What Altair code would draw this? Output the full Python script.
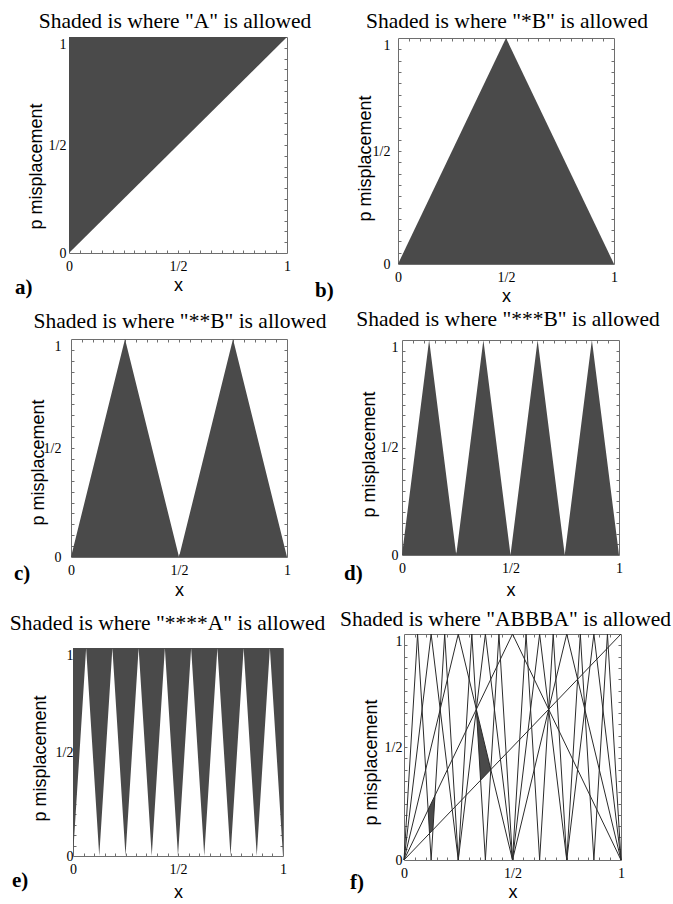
import altair as alt
import pandas as pd

FILL = "#4a4a4a"
FRAME = "#6e6e6e"
LINE = "#2b2b2b"
SERIF = "Liberation Serif"
SANS = "Liberation Sans"

# ---------------- data ----------------
titles = [
    'Shaded is where "A" is allowed',
    'Shaded is where "*B" is allowed',
    'Shaded is where "**B" is allowed',
    'Shaded is where "***B" is allowed',
    'Shaded is where "****A" is allowed',
    'Shaded is where "ABBBA" is allowed',
]
letters = ["a)", "b)", "c)", "d)", "e)", "f)"]

tick_values = [0, 0.5, 1]
tick_labels = ["0", "1/2", "1"]
minor_ticks = [0.05, 0.1, 0.15, 0.2, 0.25, 0.3, 0.35, 0.4, 0.45, 0.5,
               0.55, 0.6, 0.65, 0.7, 0.75, 0.8, 0.85, 0.9, 0.95]

# diagonal (panel a boundary)
diag_x = [0.0, 1.0]
diag_y = [0.0, 1.0]
# single tent (*B)
t1_x = [0.0, 0.5, 1.0]
t1_y = [0.0, 1.0, 0.0]
# two tents (**B)
t2_x = [0.0, 0.25, 0.5, 0.75, 1.0]
t2_y = [0.0, 1.0, 0.0, 1.0, 0.0]
# four tents (***B)
t4_x = [0.0, 0.125, 0.25, 0.375, 0.5, 0.625, 0.75, 0.875, 1.0]
t4_y = [0.0, 1.0, 0.0, 1.0, 0.0, 1.0, 0.0, 1.0, 0.0]
# eight tents (****A)
t8_x = [0.0, 0.0625, 0.125, 0.1875, 0.25, 0.3125, 0.375, 0.4375, 0.5,
        0.5625, 0.625, 0.6875, 0.75, 0.8125, 0.875, 0.9375, 1.0]
t8_y = [0.0, 1.0, 0.0, 1.0, 0.0, 1.0, 0.0, 1.0, 0.0,
        1.0, 0.0, 1.0, 0.0, 1.0, 0.0, 1.0, 0.0]

# shaded pieces of panel f
r1_x = [0.1111, 0.1176, 0.1333, 0.1429]
r1_lo = [0.2222, 0.1176, 0.1333, 0.2857]
r1_hi = [0.2222, 0.2353, 0.2667, 0.2857]
r2_x = [0.3333, 0.3529, 0.4000]
r2_lo = [0.6667, 0.3529, 0.4000]
r2_hi = [0.6667, 0.5882, 0.4000]

# ---------------- panel geometry ----------------
geo = [
    dict(xoff=0, w=218, yoff=0, h=216, tx=106, ty=-9, lx=-54, ly=257, ytc=129, xtb=37, lp=3),
    dict(xoff=0, w=216, yoff=1, h=226, tx=109, ty=-9, lx=-83, ly=260, ytc=121, xtb=37, lp=8),
    dict(xoff=2, w=216, yoff=0, h=218, tx=111, ty=-11, lx=-55, ly=241, ytc=123, xtb=38, lp=10),
    dict(xoff=4, w=217, yoff=1, h=215, tx=110, ty=-13, lx=-54, ly=241, ytc=115, xtb=40, lp=4),
    dict(xoff=4, w=210, yoff=16, h=208, tx=98.5, ty=-2, lx=-57, ly=255, ytc=126, xtb=41, lp=0),
    dict(xoff=6, w=217, yoff=2, h=226, tx=107.5, ty=-6, lx=-48, ly=257, ytc=130, xtb=37, lp=2),
]

label_expr = "datum.value == {} ? '{}' : (datum.value == {} ? '{}' : '{}')".format(
    tick_values[1], tick_labels[1], tick_values[2], tick_labels[2], tick_labels[0])


def one_row():
    return pd.DataFrame({"k": [0]})


def build(i, kind):
    g = geo[i]
    xoff, w, yoff, h = g["xoff"], g["w"], g["yoff"], g["h"]
    xs = alt.Scale(domain=[0, 1], range=[xoff, xoff + w], nice=False, zero=False)
    ys = alt.Scale(domain=[0, 1], range=[yoff + h, yoff], nice=False, zero=False)

    x_axis = alt.Axis(orient="bottom", values=tick_values, labelExpr=label_expr,
                      ticks=False, domain=False, grid=False,
                      labelFont=SERIF, labelFontSize=14, labelColor="black",
                      labelPadding=6, labelFlush=False,
                      title="x", titleFont=SANS, titleFontSize=18,
                      titleFontWeight="normal", titleColor="black",
                      titleBaseline="alphabetic", titleY=g["xtb"])
    y_axis = alt.Axis(orient="left", offset=-xoff, values=tick_values, labelExpr=label_expr,
                      ticks=False, domain=False, grid=False,
                      labelFont=SERIF, labelFontSize=14, labelColor="black",
                      labelPadding=g["lp"], labelFlush=False,
                      labelBaseline={"condition": {"test": "datum.value == 1", "value": "top"},
                                     "value": "middle"},
                      title="p misplacement", titleFont=SANS, titleFontSize=18,
                      titleFontWeight="normal", titleColor="black",
                      titleAngle=270, titleAlign="center", titleBaseline="alphabetic",
                      titleX=-28, titleY=g["ytc"])

    def edge_axis(orient, offset):
        return alt.Axis(orient=orient, offset=offset, values=minor_ticks, labels=False,
                        ticks=True, tickSize=3, tickColor=FRAME, tickWidth=1,
                        domain=True, domainColor=FRAME, domainWidth=1,
                        grid=False, title=None)

    layers = []
    if kind == "a":
        df = pd.DataFrame({"x": diag_x, "y": diag_y})
        layers.append(alt.Chart(df).mark_area(color=FILL, opacity=1).encode(
            x=alt.X("x:Q", scale=xs, axis=x_axis),
            y=alt.Y("y:Q", scale=ys, axis=y_axis),
            y2=alt.datum(1)))
    elif kind in ("b", "c", "d"):
        src = {"b": (t1_x, t1_y), "c": (t2_x, t2_y), "d": (t4_x, t4_y)}[kind]
        df = pd.DataFrame({"x": src[0], "y": src[1]})
        layers.append(alt.Chart(df).mark_area(color=FILL, opacity=1).encode(
            x=alt.X("x:Q", scale=xs, axis=x_axis),
            y=alt.Y("y:Q", scale=ys, axis=y_axis),
            y2=alt.datum(0)))
    elif kind == "e":
        df = pd.DataFrame({"x": t8_x, "y": t8_y})
        layers.append(alt.Chart(df).mark_area(color=FILL, opacity=1).encode(
            x=alt.X("x:Q", scale=xs, axis=x_axis),
            y=alt.Y("y:Q", scale=ys, axis=y_axis),
            y2=alt.datum(1)))
    else:
        reg = pd.concat([
            pd.DataFrame({"r": "r1", "x": r1_x, "lo": r1_lo, "hi": r1_hi}),
            pd.DataFrame({"r": "r2", "x": r2_x, "lo": r2_lo, "hi": r2_hi}),
        ], ignore_index=True)
        layers.append(alt.Chart(reg).mark_area(color=FILL, opacity=1).encode(
            x=alt.X("x:Q", scale=xs, axis=x_axis),
            y=alt.Y("lo:Q", scale=ys, axis=y_axis),
            y2="hi:Q",
            detail="r:N"))
        parts = []
        for name, lx_, ly_ in [("diag", diag_x, diag_y), ("t1", t1_x, t1_y),
                               ("t2", t2_x, t2_y), ("t4", t4_x, t4_y), ("t8", t8_x, t8_y)]:
            parts.append(pd.DataFrame({"s": name, "o": list(range(len(lx_))), "x": lx_, "y": ly_}))
        lines = pd.concat(parts, ignore_index=True)
        layers.append(alt.Chart(lines).mark_line(color=LINE, strokeWidth=1).encode(
            x=alt.X("x:Q", scale=xs, axis=None),
            y=alt.Y("y:Q", scale=ys, axis=None),
            detail="s:N", order="o:Q"))

    dummy = pd.DataFrame({"v": [0.0]})
    layers.append(alt.Chart(dummy).mark_point(opacity=0, size=1).encode(
        x=alt.X("v:Q", scale=xs, axis=edge_axis("top", -(yoff + h))),
        y=alt.Y("v:Q", scale=ys, axis=edge_axis("right", -w))))
    layers.append(alt.Chart(dummy).mark_point(opacity=0, size=1).encode(
        x=alt.X("v:Q", scale=xs, axis=edge_axis("bottom", -h)),
        y=alt.Y("v:Q", scale=ys, axis=edge_axis("left", -(xoff + w)))))

    layers.append(alt.Chart(one_row()).mark_text(
        text=titles[i], font=SERIF, fontSize=21.5, color="black",
        align="center", baseline="alphabetic").encode(
        x=alt.value(g["tx"]), y=alt.value(g["ty"])))
    layers.append(alt.Chart(one_row()).mark_text(
        text=letters[i], font=SERIF, fontSize=21, fontWeight="bold", color="black",
        align="left", baseline="alphabetic").encode(
        x=alt.value(g["lx"]), y=alt.value(g["ly"])))

    if i == 0:
        layers.append(alt.Chart(one_row()).mark_rule(opacity=0, strokeWidth=0).encode(
            x=alt.value(-69), x2=alt.value(-69), y=alt.value(-37), y2=alt.value(-37)))

    return alt.layer(*layers).resolve_axis(x="independent", y="independent").properties(
        width=xoff + w, height=yoff + h)


panels = [build(i, k) for i, k in enumerate(["a", "b", "c", "d", "e", "f"])]

chart = alt.concat(*panels, columns=2, spacing={"row": 75, "column": 111},
                   bounds="flush", align="each").properties(
    padding=0, background="white").configure_view(strokeWidth=0)

chart.save("out.html", embed_options={"renderer": "svg", "actions": False})
